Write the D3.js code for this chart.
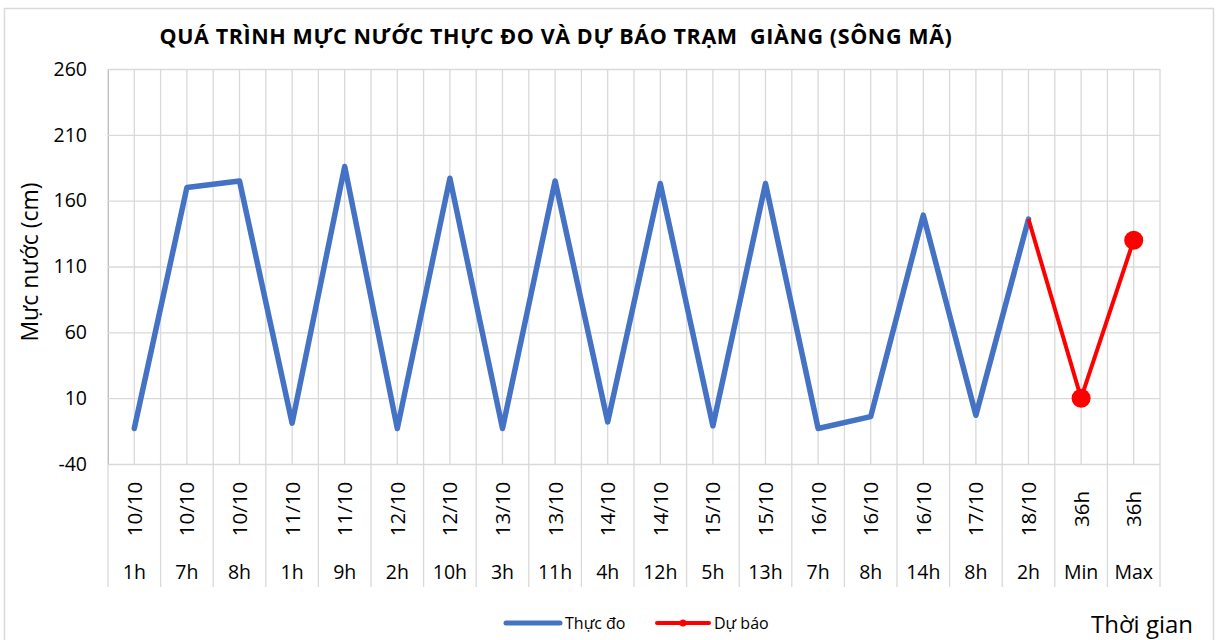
<!DOCTYPE html>
<html><head><meta charset="utf-8">
<script src="https://cdn.jsdelivr.net/npm/d3@7"></script>
<style>
html,body{margin:0;padding:0;background:#fff;}
svg{display:block;font-family:"Open Sans","Noto Sans",sans-serif;}
</style></head>
<body><svg id="c" width="1217" height="640"></svg>
<script>
const dateLabels = ["10/10","10/10","10/10","11/10","11/10","12/10","12/10","13/10","13/10","14/10","14/10","15/10","15/10","16/10","16/10","16/10","17/10","18/10","36h","36h"];
const hourLabels = ["1h","7h","8h","1h","9h","2h","10h","3h","11h","4h","12h","5h","13h","7h","8h","14h","8h","2h","Min","Max"];
const observed = [-13,170,175,-9,186,-13,177,-13,175,-8,173,-11,173,-13,-4,149,-3,146,null,null];
const forecast = [null,null,null,null,null,null,null,null,null,null,null,null,null,null,null,null,null,146,10,130];
const yTicks = [-40,10,60,110,160,210,260];
const titleText = "QUÁ TRÌNH MỰC NƯỚC THỰC ĐO VÀ DỰ BÁO TRẠM  GIÀNG (SÔNG MÃ)";

const svg = d3.select("#c");
const L = 108, R = 1160, T = 69, B = 464;
const x = d3.scaleBand().domain(d3.range(dateLabels.length)).range([L, R]).padding(0);
const y = d3.scaleLinear().domain([-40, 260]).range([B, T]);
const cx = i => x(i) + x.bandwidth() / 2;

// outer frame
svg.append("rect").attr("x", 4.5).attr("y", 8.5).attr("width", 1209).attr("height", 640)
  .attr("fill", "#fff").attr("stroke", "#d9d9d9").attr("stroke-width", 1.5);

// title
svg.append("text").attr("x", 556).attr("y", 44).attr("text-anchor", "middle")
  .style("white-space", "pre").attr("font-size", 21.5).attr("font-weight", "bold")
  .attr("letter-spacing", 0.6).attr("fill", "#000").text(titleText);

const g = svg.append("g");
const idx = d3.range(dateLabels.length);
// vertical gridlines at category boundaries (extended through label area) and centers
g.selectAll(".vb").data(idx.concat([dateLabels.length])).enter().append("line")
  .attr("x1", i => i < dateLabels.length ? x(i) : R).attr("x2", i => i < dateLabels.length ? x(i) : R)
  .attr("y1", T).attr("y2", 587).attr("stroke", "#d9d9d9").attr("stroke-width", 1.3);
g.selectAll(".vc").data(idx).enter().append("line")
  .attr("x1", cx).attr("x2", cx).attr("y1", T).attr("y2", B)
  .attr("stroke", "#d9d9d9").attr("stroke-width", 1.3);

// y axis with horizontal gridlines
const yAxis = d3.axisLeft(y).tickValues(yTicks).tickFormat(d => String(d)).tickSize(-(R - L)).tickPadding(21);
const ya = svg.append("g").attr("transform", `translate(${L},0)`).call(yAxis);
ya.select(".domain").attr("stroke", "#bfbfbf");
ya.selectAll(".tick line").attr("stroke", "#d9d9d9").attr("stroke-width", 1.3);
ya.selectAll(".tick text").attr("font-size", 19.5).attr("fill", "#000")
  .attr("font-family", "'Open Sans','Noto Sans',sans-serif");

// category labels (two levels)
const xa = svg.append("g");
xa.selectAll(".d").data(idx).enter().append("text")
  .attr("transform", i => `translate(${cx(i) + 7.5},509) rotate(-90)`)
  .attr("text-anchor", "middle").attr("font-size", 20.5).attr("fill", "#000")
  .text(i => dateLabels[i]);
xa.selectAll(".h").data(idx).enter().append("text")
  .attr("x", cx).attr("y", 579).attr("text-anchor", "middle")
  .attr("font-size", 19.5).attr("fill", "#000").text(i => hourLabels[i]);

// y axis title
svg.append("text").attr("transform", "translate(38,262) rotate(-90)")
  .attr("text-anchor", "middle").attr("font-size", 23).attr("fill", "#000").text("Mực nước (cm)");

// lines
const line = d3.line().defined(d => d != null).x((d, i) => cx(i)).y(d => y(d));
svg.append("path").datum(observed).attr("d", line).attr("fill", "none")
  .attr("stroke", "#4472C4").attr("stroke-width", 5.5).attr("stroke-linejoin", "round").attr("stroke-linecap", "round");
svg.append("path").datum(forecast).attr("d", line).attr("fill", "none")
  .attr("stroke", "#FF0000").attr("stroke-width", 4).attr("stroke-linejoin", "round");
const firstF = forecast.findIndex(v => v != null);
svg.selectAll(".mk").data(idx.filter(i => forecast[i] != null && i > firstF)).enter().append("circle")
  .attr("cx", cx).attr("cy", i => y(forecast[i])).attr("r", 9.5).attr("fill", "#FF0000");

// legend
const lg = svg.append("g");
lg.append("line").attr("x1", 506).attr("x2", 560).attr("y1", 623).attr("y2", 623)
  .attr("stroke", "#4472C4").attr("stroke-width", 5).attr("stroke-linecap", "round");
lg.append("text").attr("x", 565).attr("y", 629).attr("font-size", 16).attr("fill", "#000").text("Thực đo");
lg.append("line").attr("x1", 657).attr("x2", 709).attr("y1", 623).attr("y2", 623)
  .attr("stroke", "#FF0000").attr("stroke-width", 4).attr("stroke-linecap", "round");
lg.append("circle").attr("cx", 683).attr("cy", 623).attr("r", 3.5).attr("fill", "#FF0000");
lg.append("text").attr("x", 714).attr("y", 629).attr("font-size", 16).attr("fill", "#000").text("Dự báo");

svg.append("text").attr("x", 1091).attr("y", 633).attr("font-size", 24).attr("fill", "#000").text("Thời gian");
</script></body></html>
